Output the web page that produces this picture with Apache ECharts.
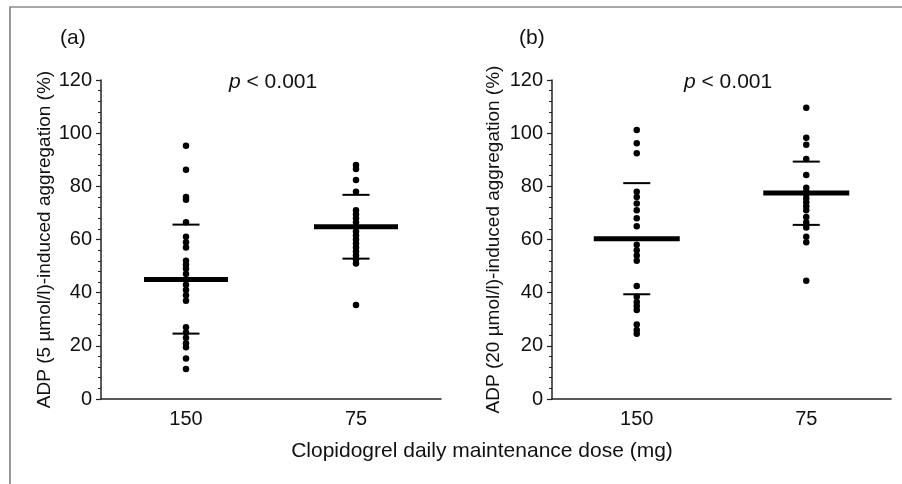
<!DOCTYPE html>
<html><head><meta charset="utf-8">
<script src="https://cdn.jsdelivr.net/npm/echarts@6/dist/echarts.min.js"></script>
<style>html,body{margin:0;padding:0;background:#fff}#c{width:902px;height:484px}</style>
</head><body><div id="c"></div>
<script>
const categories = ['150', '75'];
const yTicks = [0, 20, 40, 60, 80, 100, 120];
// Panel (a): ADP 5 µmol/l
const aggA150 = [95.3, 86.2, 76, 75, 66.5, 61, 59, 57, 52, 50.5, 49, 47, 43, 41, 39, 37, 27, 25, 23, 21, 19.5, 15.2, 11.3];
const aggA75 = [88, 86.5, 82.4, 78, 71, 69.5, 68, 66.5, 63, 61.5, 60, 58.5, 57, 55.5, 54, 52.5, 51, 35.4];
const meanA = [45, 64.8];
const upperA = [65.6, 76.8];
const lowerA = [24.6, 52.8];
// Panel (b): ADP 20 µmol/l
const aggB150 = [101.2, 96.2, 92.4, 78, 76, 73.5, 71, 68, 65, 58, 56, 54, 52, 42.5, 38.5, 36.5, 35, 33.5, 28, 26, 24.5];
const aggB75 = [109.6, 98.3, 95.6, 90.3, 84.3, 79.5, 78, 77, 75.5, 74, 72.5, 71, 68.5, 66.5, 64.5, 61, 59, 44.5];
const meanB = [60.3, 77.5];
const upperB = [81.2, 89.3];
const lowerB = [39.4, 65.5];

const FONT = '"Liberation Sans", Arial, Helvetica, sans-serif';
const INK = '#000';

function pts(cat, arr) { return arr.map(v => [cat, v]); }
function pair(arr) { return arr.map((v, i) => [categories[i], v]); }

function dotSeries(idx, cat, arr) {
  return { type: 'scatter', xAxisIndex: idx, yAxisIndex: idx, symbol: 'circle', symbolSize: 6.5,
    itemStyle: { color: INK, opacity: 1 }, data: pts(cat, arr), z: 3, silent: true };
}
function barSeries(idx, arr, w, h) {
  return { type: 'scatter', xAxisIndex: idx, yAxisIndex: idx, symbol: 'rect', symbolSize: [w, h],
    itemStyle: { color: INK, opacity: 1 }, data: pair(arr), z: 4, silent: true };
}

function xAx(idx) {
  return { type: 'category', gridIndex: idx, data: categories, boundaryGap: true,
    axisLine: { lineStyle: { color: '#222', width: 1.5 } }, axisTick: { show: false },
    axisLabel: { color: '#111', fontFamily: FONT, fontSize: 20, margin: 10 } };
}
function yAx(idx, name, gap) {
  return { type: 'value', gridIndex: idx, min: 0, max: 120, interval: 20,
    name: name, nameLocation: 'middle', nameGap: gap,
    nameTextStyle: { color: '#111', fontFamily: FONT, fontSize: 19 },
    axisLine: { show: true, lineStyle: { color: '#222', width: 1.5 } },
    axisTick: { show: true, length: 5, lineStyle: { color: '#222', width: 1.2 } },
    minorTick: { show: true, splitNumber: 5, length: 3, lineStyle: { color: '#222', width: 1 } },
    splitLine: { show: false },
    axisLabel: { color: '#111', fontFamily: FONT, fontSize: 20, margin: 9,
      formatter: v => (yTicks.indexOf(v) >= 0 ? String(v) : '') } };
}

const chart = echarts.init(document.getElementById('c'), null, { renderer: 'canvas' });
chart.setOption({
  animation: false,
  backgroundColor: '#fff',
  grid: [
    { left: 101, top: 80, width: 340, height: 319 },
    { left: 552, top: 80, width: 339, height: 319 }
  ],
  xAxis: [xAx(0), xAx(1)],
  yAxis: [yAx(0, 'ADP (5 µmol/l)-induced aggregation (%)', 44), yAx(1, 'ADP (20 µmol/l)-induced aggregation (%)', 49)],
  series: [
    dotSeries(0, '150', aggA150), dotSeries(0, '75', aggA75),
    barSeries(0, meanA, 84, 5), barSeries(0, upperA, 27, 2), barSeries(0, lowerA, 27, 2),
    dotSeries(1, '150', aggB150), dotSeries(1, '75', aggB75),
    barSeries(1, meanB, 86, 5), barSeries(1, upperB, 27, 2), barSeries(1, lowerB, 27, 2)
  ],
  graphic: [
    { type: 'rect', shape: { x: 10, y: 7, width: 900, height: 490 }, style: { fill: 'none', stroke: '#555', lineWidth: 1.2 }, silent: true },
    { type: 'text', left: 60, top: 28, style: { text: '(a)', font: '21px ' + FONT, fill: '#111' } },
    { type: 'text', left: 519, top: 28, style: { text: '(b)', font: '21px ' + FONT, fill: '#111' } },
    { type: 'text', left: 229, top: 72, style: { text: '{i|p} < 0.001', font: '21px ' + FONT, fill: '#111',
      rich: { i: { fontStyle: 'italic', fontFamily: FONT, fontSize: 21, fill: '#111' } } } },
    { type: 'text', left: 684, top: 72, style: { text: '{i|p} < 0.001', font: '21px ' + FONT, fill: '#111',
      rich: { i: { fontStyle: 'italic', fontFamily: FONT, fontSize: 21, fill: '#111' } } } },
    { type: 'text', x: 482, y: 441, style: { text: 'Clopidogrel daily maintenance dose (mg)', font: '21px ' + FONT, fill: '#111', textAlign: 'center' } }
  ]
});
</script></body></html>
